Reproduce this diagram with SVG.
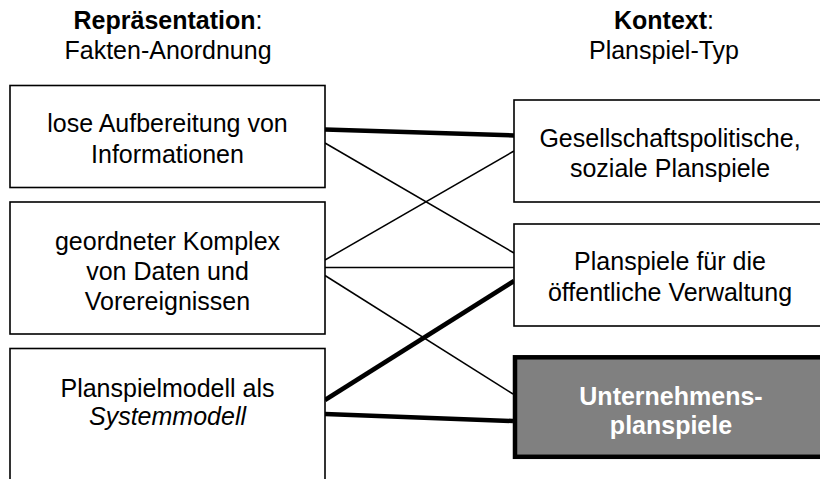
<svg xmlns="http://www.w3.org/2000/svg" width="820" height="479" viewBox="0 0 820 479">
  <style>
    .box { fill: #ffffff; stroke: #000000; stroke-width: 1.6; }
    .hl { fill: #808080; stroke: #000000; stroke-width: 4.5; }
    .t { font-family: "Liberation Sans", Arial, sans-serif; font-size: 25px; fill: #000000; text-anchor: middle; }
    .b { font-weight: bold; }
    .w { fill: #ffffff; font-weight: bold; }
    .thin { stroke: #000000; stroke-width: 1.5; fill: none; }
    .thick { stroke: #000000; stroke-width: 4.5; fill: none; }
  </style>
  <rect width="820" height="479" fill="#ffffff"/>

  <!-- column headings -->
  <g id="head-left">
    <text class="t" x="168" y="29"><tspan class="b">Repräsentation</tspan>:</text>
    <text class="t" x="168" y="59">Fakten-Anordnung</text>
  </g>
  <g id="head-right">
    <text class="t" x="664" y="29"><tspan class="b">Kontext</tspan>:</text>
    <text class="t" x="664" y="59">Planspiel-Typ</text>
  </g>

  <!-- connectors -->
  <g id="connectors">
    <line class="thick" x1="325" y1="129.5" x2="514" y2="135.5"/>
    <line class="thin" x1="325" y1="143" x2="514" y2="253"/>
    <line class="thin" x1="325" y1="260" x2="514" y2="151"/>
    <line class="thin" x1="325" y1="267.5" x2="514" y2="267.5"/>
    <line class="thin" x1="325" y1="275.5" x2="513" y2="394"/>
    <line class="thick" x1="325" y1="400" x2="514" y2="281"/>
    <line class="thick" x1="325" y1="414" x2="513" y2="421"/>
  </g>

  <!-- left column -->
  <g id="lose-aufbereitung">
    <rect class="box" x="10" y="85.5" width="315" height="102"/>
    <text class="t" x="167.5" y="132">lose Aufbereitung von</text>
    <text class="t" x="167.5" y="163">Informationen</text>
  </g>
  <g id="geordneter-komplex">
    <rect class="box" x="10" y="202" width="315" height="132"/>
    <text class="t" x="167.5" y="250">geordneter Komplex</text>
    <text class="t" x="167.5" y="280">von Daten und</text>
    <text class="t" x="167.5" y="310">Vorereignissen</text>
  </g>
  <g id="systemmodell">
    <rect class="box" x="10" y="348.5" width="315" height="150"/>
    <text class="t" x="167.5" y="397">Planspielmodell als</text>
    <text class="t" x="167.5" y="425" font-style="italic">Systemmodell</text>
  </g>

  <!-- right column -->
  <g id="gesellschaftspolitisch">
    <rect class="box" x="514" y="100" width="320" height="102"/>
    <text class="t" x="670" y="147">Gesellschaftspolitische,</text>
    <text class="t" x="670" y="177">soziale Planspiele</text>
  </g>
  <g id="verwaltung">
    <rect class="box" x="514" y="224" width="320" height="102"/>
    <text class="t" x="670" y="270">Planspiele für die</text>
    <text class="t" x="670" y="301">öffentliche Verwaltung</text>
  </g>
  <g id="unternehmensplanspiele">
    <rect class="hl" x="515" y="357.3" width="320" height="99.5"/>
    <text class="t w" x="671" y="405">Unternehmens-</text>
    <text class="t w" x="671" y="434">planspiele</text>
  </g>
</svg>
